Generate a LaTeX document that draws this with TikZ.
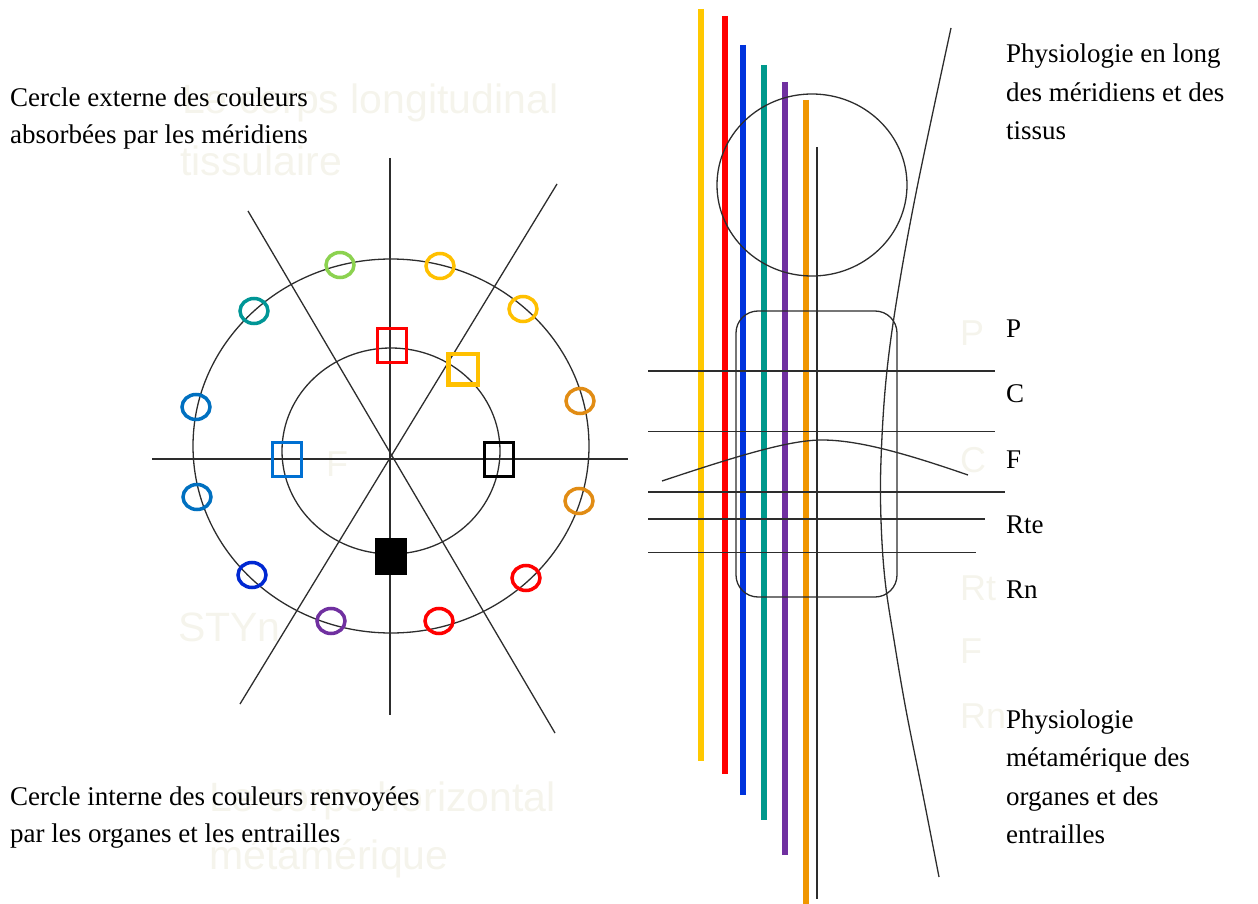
\documentclass[tikz,border=0pt]{standalone}
\usepackage{fontspec}
\setmainfont{Liberation Serif}
\newfontfamily\ghostfont{Liberation Sans}
\definecolor{ghost}{RGB}{245,244,236}
\definecolor{lineclr}{RGB}{45,45,45}
\definecolor{cyellow}{RGB}{255,200,0}
\definecolor{cred}{RGB}{255,0,0}
\definecolor{cblue}{RGB}{0,51,221}
\definecolor{cteal}{RGB}{0,153,140}
\definecolor{cpurple}{RGB}{112,48,160}
\definecolor{corange}{RGB}{240,150,0}
\definecolor{rgreen}{RGB}{140,210,80}
\definecolor{ryellow}{RGB}{255,192,0}
\definecolor{rorange}{RGB}{225,140,20}
\definecolor{rdblue}{RGB}{0,40,210}
\definecolor{rblue}{RGB}{0,112,192}
\definecolor{rteal}{RGB}{0,150,150}
\definecolor{sqblue}{RGB}{0,112,210}
\begin{document}
\begin{tikzpicture}[x=1pt,y=-1pt,
  thinline/.style={draw=lineclr, line width=1.3pt},
  bar/.style={line width=5.5pt},
  txt/.style={anchor=base west, inner sep=0pt, font=\fontsize{27}{37}\selectfont},
  ghosttxt/.style={anchor=base west, inner sep=0pt, text=ghost, font=\ghostfont\fontsize{41}{48}\selectfont},
  ghostletter/.style={anchor=base west, inner sep=0pt, text=ghost, font=\ghostfont\fontsize{36}{40}\selectfont},
  ring/.style={line width=3.5pt},
  sqbox/.style={draw, line width=3pt, minimum width=29pt, minimum height=34pt, inner sep=0pt}]
\useasboundingbox (0,0) rectangle (1258,904);

% ghost texts
\node[ghosttxt] (g1) at (182,114) {Le corps longitudinal};
\node[ghosttxt] (g2) at (180,176) {tissulaire};
\node[ghosttxt] (g3) at (209,811) {Le corps horizontal};
\node[ghosttxt] (g4) at (209,869) {métamérique};
\node[ghostletter] (gF) at (326,476) {F};
\node[ghosttxt] (gS) at (178,641) {STYn};
\node[ghostletter] (gP) at (960,345) {P};
\node[ghostletter] (gC) at (960,472) {C};
\node[ghostletter] (gRt) at (960,600) {Rt};
\node[ghostletter] (gF2) at (960,663) {F};
\node[ghostletter] (gRn) at (960,728) {Rn};

% ---------- left diagram ----------
\coordinate (vt) at (390,158);
\coordinate (vb) at (390,715);
\coordinate (hl) at (152,459);
\coordinate (hr) at (628,459);
\coordinate (a1) at (248,211);
\coordinate (a2) at (555,733);
\coordinate (b1) at (557,184);
\coordinate (b2) at (240,704);
\draw[thinline] (vt) -- (vb);
\draw[thinline] (hl) -- (hr);
\draw[thinline] (a1) -- (a2);
\draw[thinline] (b1) -- (b2);
\draw[thinline] (391,446) ellipse [x radius=198pt, y radius=187pt];
\draw[thinline] (391,451) ellipse [x radius=109pt, y radius=103pt];

% small rings on the outer circle
\draw[ring, rgreen]  (340,265) ellipse [x radius=14pt, y radius=12.5pt];
\draw[ring, ryellow] (440,266) ellipse [x radius=14pt, y radius=12.5pt];
\draw[ring, ryellow] (523,309) ellipse [x radius=14pt, y radius=12.5pt];
\draw[ring, rorange] (580,401) ellipse [x radius=14pt, y radius=12.5pt];
\draw[ring, rorange] (579,501) ellipse [x radius=14pt, y radius=12.5pt];
\draw[ring, cred]    (526,578) ellipse [x radius=14pt, y radius=12.5pt];
\draw[ring, cred]    (439,621) ellipse [x radius=14pt, y radius=12.5pt];
\draw[ring, cpurple] (331,621) ellipse [x radius=14pt, y radius=12.5pt];
\draw[ring, rdblue]  (252,575) ellipse [x radius=14pt, y radius=12.5pt];
\draw[ring, rblue]   (197,497) ellipse [x radius=14pt, y radius=12.5pt];
\draw[ring, rblue]   (196,407) ellipse [x radius=14pt, y radius=12.5pt];
\draw[ring, rteal]   (254,311) ellipse [x radius=14pt, y radius=12.5pt];

% squares on the inner circle
\node[sqbox, draw=cred] (sqr) at (392,345) {};
\node[sqbox, draw=ryellow, line width=4.5pt, minimum width=29.5pt, minimum height=30.5pt] (sqy) at (463,369) {};
\node[sqbox, draw=sqblue] (sqb) at (287,459) {};
\node[sqbox, draw=black] (sqk) at (499,459) {};
\node[sqbox, draw=black, fill=black] (sqf) at (391,556) {};

% ---------- right diagram ----------
\draw[bar, cyellow] (701,9) -- (701,761);
\draw[bar, cred] (725,16) -- (725,774);
\draw[bar, cblue] (743,45) -- (743,795);
\draw[bar, cteal] (764,65) -- (764,820);
\draw[bar, cpurple] (785,82) -- (785,855);
\draw[bar, corange] (806,100) -- (806,904);
\coordinate (gt) at (817,147);
\coordinate (gb) at (817,899);
\draw[thinline] (gt) -- (gb);

\draw[thinline] (812,185) ellipse [x radius=95pt, y radius=91pt];
\draw[thinline, rounded corners=22pt] (736,311) rectangle (897,597);

\coordinate (h1l) at (648,371);   \coordinate (h1r) at (995,371);
\coordinate (h2l) at (648,431.5); \coordinate (h2r) at (995,431.5);
\coordinate (h3l) at (648,492);   \coordinate (h3r) at (1005,492);
\coordinate (h4l) at (648,519);   \coordinate (h4r) at (985,519);
\coordinate (h5l) at (648,552.5); \coordinate (h5r) at (976,552.5);
\draw[thinline] (h1l) -- (h1r);
\draw[thinline] (h2l) -- (h2r);
\draw[thinline] (h3l) -- (h3r);
\draw[thinline] (h4l) -- (h4r);
\draw[thinline] (h5l) -- (h5r);

\draw[thinline] (662,481) .. controls (740,455) and (790,440) .. (822,440)
  .. controls (860,440) and (910,455) .. (968,475);

\draw[thinline] plot[smooth, tension=0.6] coordinates {(951,28) (917,188) (897,298) (886,380) (881,460) (881,520) (885,580) (894,640) (906,710) (922,790) (939,877)};

% ---------- texts ----------
\node[txt] (lt1) at (10,107) {Cercle externe des couleurs};
\node[txt] (lt2) at (10,144) {absorbées par les méridiens};
\node[txt] (lb1) at (10,805) {Cercle interne des couleurs renvoyées};
\node[txt] (lb2) at (10,842) {par les organes et les entrailles};

\node[txt] (rt1) at (1006,63) {Physiologie en long};
\node[txt] (rt2) at (1006,102) {des méridiens et des};
\node[txt] (rt3) at (1006,140) {tissus};

\node[txt] (lP) at (1006,337) {P};
\node[txt] (lC) at (1006,402) {C};
\node[txt] (lF) at (1006,468) {F};
\node[txt] (lRte) at (1006,533) {Rte};
\node[txt] (lRn) at (1006,598) {Rn};

\node[txt] (rb1) at (1006,728) {Physiologie};
\node[txt] (rb2) at (1006,766) {métamérique des};
\node[txt] (rb3) at (1006,805) {organes et des};
\node[txt] (rb4) at (1006,843) {entrailles};
\end{tikzpicture}
\end{document}
